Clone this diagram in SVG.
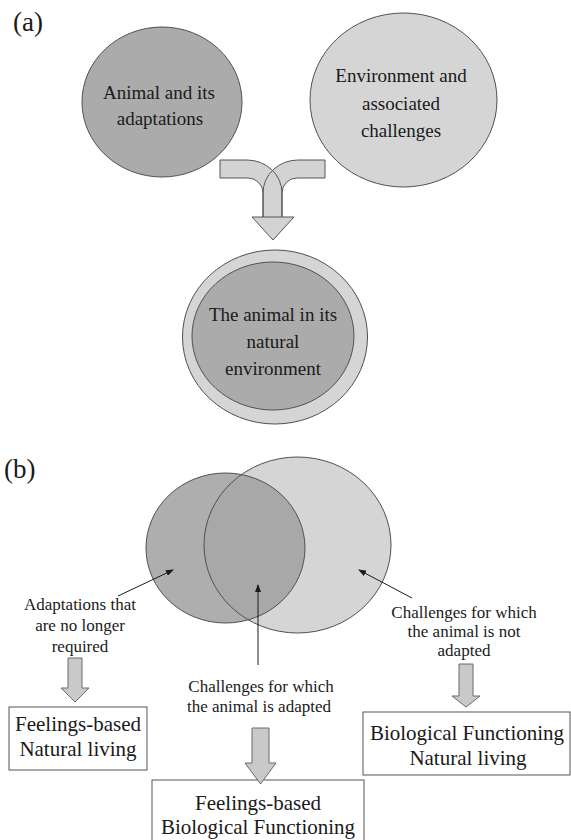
<svg xmlns="http://www.w3.org/2000/svg" width="571" height="840" viewBox="0 0 571 840">
<defs>
<style>
text{font-family:"Liberation Serif","Times New Roman",serif;fill:#1a1a1a;text-anchor:middle}
.lbl{font-size:27px;text-anchor:start}
.ct{font-size:19px}
.bt{font-size:17px}
.xt{font-size:21px}
.dark{fill:#ababab;stroke:#505050;stroke-width:1}
.light{fill:#d5d5d5;stroke:#505050;stroke-width:1}
.blk{fill:#c9c9c9;stroke:#6a6a6a;stroke-width:1}
.box{fill:#fff;stroke:#555;stroke-width:1}
.thin{stroke:#1a1a1a;stroke-width:1;fill:none;marker-end:url(#ah)}
</style>
<marker id="ah" markerWidth="8" markerHeight="6" refX="7" refY="3" orient="auto" markerUnits="userSpaceOnUse">
<path d="M0,0 L8,3 L0,6 Z" fill="#1a1a1a"/>
</marker>
</defs>
<rect width="571" height="840" fill="#fff"/>

<text class="lbl" x="13" y="31">(a)</text>
<text class="lbl" x="4" y="478">(b)</text>

<g id="animal">
<ellipse class="dark" cx="162" cy="102" rx="80" ry="75"/>
<text class="ct" x="159" y="99">Animal and its</text>
<text class="ct" x="160" y="125">adaptations</text>
</g>

<g id="environment">
<ellipse class="light" cx="403.5" cy="100" rx="93.5" ry="87"/>
<text class="ct" x="401" y="82">Environment and</text>
<text class="ct" x="401" y="110">associated</text>
<text class="ct" x="401" y="137">challenges</text>
</g>

<g id="natural">
<ellipse class="light" cx="275" cy="337" rx="92.5" ry="87"/>
<ellipse class="dark" cx="273" cy="336" rx="81" ry="74"/>
<text class="ct" x="273" y="321">The animal in its</text>
<text class="ct" x="273" y="348">natural</text>
<text class="ct" x="273" y="375">environment</text>
</g>

<g id="venn">
<ellipse cx="297.5" cy="545" rx="93.5" ry="88" fill="#d5d5d5"/>
<ellipse cx="225.5" cy="548" rx="79.5" ry="75" fill="#a0a0a0" fill-opacity="0.85"/>
<ellipse cx="297.5" cy="545" rx="93.5" ry="88" fill="none" stroke="#505050"/>
<ellipse cx="225.5" cy="548" rx="79.5" ry="75" fill="none" stroke="#505050"/>
</g>

<g id="label-left">
<text class="bt" x="80" y="610">Adaptations that</text>
<text class="bt" x="80" y="631">are no longer</text>
<text class="bt" x="80" y="652">required</text>
</g>
<g id="label-middle">
<text class="bt" x="261" y="692">Challenges for which</text>
<text class="bt" x="259" y="712">the animal is adapted</text>
</g>
<g id="label-right">
<text class="bt" x="464" y="618">Challenges for which</text>
<text class="bt" x="464" y="637">the animal is not</text>
<text class="bt" x="464" y="656">adapted</text>
</g>

<g id="box-left">
<rect class="box" x="9" y="707" width="138" height="63"/>
<text class="xt" x="78" y="731">Feelings-based</text>
<text class="xt" x="78" y="756">Natural living</text>
</g>
<g id="box-middle">
<rect class="box" x="152" y="780" width="212" height="70"/>
<text class="xt" x="258" y="810">Feelings-based</text>
<text class="xt" x="258" y="834">Biological Functioning</text>
</g>
<g id="box-right">
<rect class="box" x="363" y="712" width="207" height="63"/>
<text class="xt" x="467" y="740">Biological Functioning</text>
<text class="xt" x="468" y="765">Natural living</text>
</g>

<g id="connectors">
<g id="merge-arrow">
<path d="M220,160 H247 A35,33 0 0 1 282,193 V218 H263 V193 A15,15 0 0 0 248,178 H220 Z" fill="#d3d3d3"/>
<path d="M325,160 H298 A35,33 0 0 0 263,193 V218 H282 V193 A15,15 0 0 1 297,178 H325 Z" fill="#d3d3d3"/>
<path d="M220,160 H247 A35,33 0 0 1 282,193 V218 H263 V193 A15,15 0 0 0 248,178 H220 Z" fill="none" stroke="#555"/>
<path d="M325,160 H298 A35,33 0 0 0 263,193 V218 H282 V193 A15,15 0 0 1 297,178 H325 Z" fill="none" stroke="#555"/>
<path d="M252,217 H294 L273,240 Z" fill="#d3d3d3" stroke="#555"/>
</g>
<line class="thin" x1="118" y1="596" x2="173" y2="570"/>
<line class="thin" x1="258" y1="665" x2="258" y2="585"/>
<line class="thin" x1="412" y1="598" x2="359" y2="570"/>
<path class="blk" d="M68,658 H82 V688 H89 L75,702 L61,688 H68 Z"/>
<path class="blk" d="M252,728 H269 V763 H276 L260.5,784 L245,763 H252 Z"/>
<path class="blk" d="M459,664 H473 V696 H480 L466,707 L452,696 H459 Z"/>
</g>
</svg>
